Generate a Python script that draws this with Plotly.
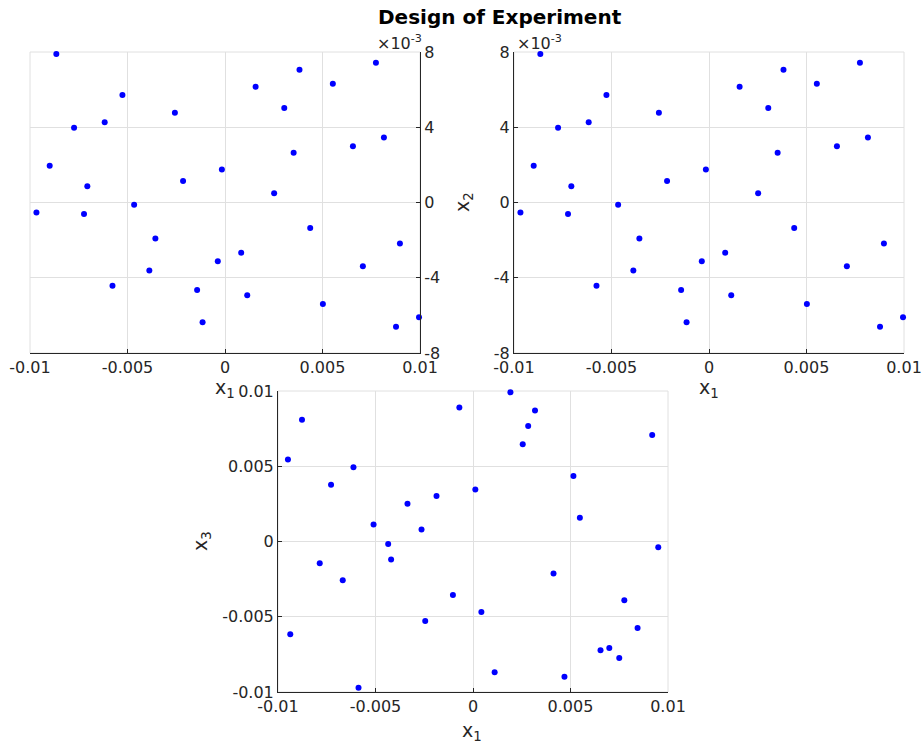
import plotly.graph_objects as go

# ---- data ----
x1_top = [-0.00865, -0.00526, -0.00774, -0.00617, -0.00257, -0.00899, -0.00706, -0.00215,
          -0.00016, -0.00967, -0.00723, -0.00466, -0.00357, -0.00388, -0.00577, -0.00143,
          -0.00115, -0.00037, 0.00083, 0.00114, 0.00157, 0.00304, 0.00382, 0.00352,
          0.00252, 0.00437, 0.00553, 0.00656, 0.00502, 0.00707, 0.00774, 0.00815,
          0.00897, 0.00877, 0.00995]
x2_top = [7.89, 5.71, 3.97, 4.27, 4.77, 1.96, 0.86, 1.14, 1.75, -0.53, -0.61, -0.12,
          -1.91, -3.62, -4.43, -4.65, -6.37, -3.12, -2.67, -4.93, 6.15, 5.02, 7.06, 2.65,
          0.49, -1.36, 6.31, 2.99, -5.39, -3.39, 7.43, 3.45, -2.18, -6.60, -6.10]
x2_top = [v * 1e-3 for v in x2_top]

x1_bot = [-0.00949, -0.00877, -0.00937, -0.00728, -0.00786, -0.00668, -0.00613, -0.00587,
          -0.00510, -0.00435, -0.00420, -0.00336, -0.00264, -0.00245, -0.00187, -0.00103,
          -0.00070, 0.00012, 0.00043, 0.00111, 0.00192, 0.00255, 0.00283, 0.00318,
          0.00413, 0.00469, 0.00515, 0.00548, 0.00654, 0.00699, 0.00750, 0.00776,
          0.00844, 0.00919, 0.00950]
x3_bot = [5.45, 8.09, -6.16, 3.77, -1.44, -2.57, 4.94, -9.71, 1.13, -0.16, -1.20, 2.51,
          0.80, -5.28, 3.02, -3.55, 8.91, 3.46, -4.68, -8.69, 9.91, 6.47, 7.67, 8.71,
          -2.13, -8.98, 4.35, 1.57, -7.23, -7.07, -7.74, -3.90, -5.74, 7.07, -0.38]
x3_bot = [v * 1e-3 for v in x3_bot]

x_ticks = [-0.01, -0.005, 0, 0.005, 0.01]
x_ticktext = ["-0.01", "-0.005", "0", "0.005", "0.01"]
y2_ticks = [-0.008, -0.004, 0, 0.004, 0.008]
y2_ticktext = ["-8", "-4", "0", "4", "8"]
y3_ticks = [-0.01, -0.005, 0, 0.005, 0.01]
y3_ticktext = ["-0.01", "-0.005", "0", "0.005", "0.01"]

W, H = 924, 749
def px(x0, x1):
    return [x0 / W, x1 / W]
def py(top, bottom):
    return [1 - bottom / H, 1 - top / H]

FONT = "DejaVu Sans"
TXT = "#262626"
GRID = "#e0e0e0"
TICKFONT = dict(family=FONT, size=16, color=TXT)

fig = go.Figure()
mk = dict(color="#0000ff", size=6)
fig.add_trace(go.Scatter(x=x1_top, y=x2_top, mode="markers", marker=mk, xaxis="x", yaxis="y", showlegend=False, cliponaxis=False))
fig.add_trace(go.Scatter(x=x1_top, y=x2_top, mode="markers", marker=mk, xaxis="x2", yaxis="y2", showlegend=False, cliponaxis=False))
fig.add_trace(go.Scatter(x=x1_bot, y=x3_bot, mode="markers", marker=mk, xaxis="x3", yaxis="y3", showlegend=False, cliponaxis=False))

def xax(dom, anchor):
    return dict(domain=dom, anchor=anchor, range=[-0.01, 0.01], tickvals=x_ticks, ticktext=x_ticktext,
                showgrid=True, gridcolor=GRID, gridwidth=1, zeroline=False, showline=True,
                linecolor=TXT, linewidth=1, ticks="inside", ticklen=4, tickcolor=TXT,
                tickfont=TICKFONT, mirror=False, automargin=False, fixedrange=True)

def yax(dom, anchor, rng, tv, tt, side="left"):
    return dict(domain=dom, anchor=anchor, range=rng, tickvals=tv, ticktext=tt, side=side,
                showgrid=True, gridcolor=GRID, gridwidth=1, zeroline=False, showline=True,
                linecolor=TXT, linewidth=1, ticks="inside", ticklen=4, tickcolor=TXT,
                tickfont=TICKFONT, mirror=False, automargin=False, fixedrange=True)

top_y = py(52, 353)
fig.update_layout(
    width=W, height=H, margin=dict(l=0, r=0, t=0, b=0, autoexpand=False),
    paper_bgcolor="white", plot_bgcolor="white",
    xaxis=xax(px(30, 420), "y"),
    yaxis=yax(top_y, "x", [-0.008, 0.008], y2_ticks, y2_ticktext, side="right"),
    xaxis2=xax(px(514, 904), "y2"),
    yaxis2=yax(top_y, "x2", [-0.008, 0.008], y2_ticks, y2_ticktext),
    xaxis3=xax(px(278, 668), "y3"),
    yaxis3=yax(py(391, 692), "x3", [-0.01, 0.01], y3_ticks, y3_ticktext),
)

# light box around each axes
for xr, yr in [("x", "y"), ("x2", "y2"), ("x3", "y3")]:
    fig.add_shape(type="rect", xref=f"{xr} domain", yref=f"{yr} domain", x0=0, x1=1, y0=0, y1=1,
                  line=dict(color=GRID, width=1), layer="below")

def ann(text, x, y, size=18, angle=0, bold=False, **kw):
    fig.add_annotation(text=text, x=x / W, y=1 - y / H, xref="paper", yref="paper",
                       xanchor="center", yanchor="middle",
                       showarrow=False, textangle=angle,
                       font=dict(family=FONT, size=size, color="black" if bold else TXT), **kw)

ann("<b>Design of Experiment</b>", 500, 17, size=20, bold=True)
ann("×10<sup>-3</sup>", 399, 42, size=16)
ann("×10<sup>-3</sup>", 539, 42, size=16)
ann("x<sub>1</sub>", 225, 388, size=19)
ann("x<sub>1</sub>", 709, 388, size=19)
ann("x<sub>2</sub>", 463, 202, size=19, angle=-90)
ann("x<sub>3</sub>", 201, 541, size=19, angle=-90)
ann("x<sub>1</sub>", 472, 731, size=19)

fig.write_html("out.html")
